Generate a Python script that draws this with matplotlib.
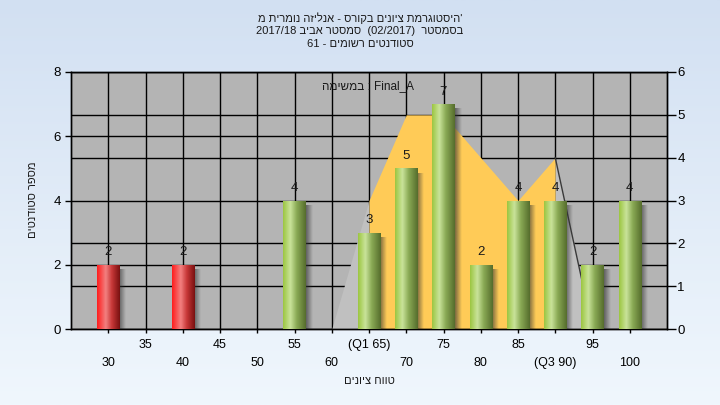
import re
import numpy as np
import matplotlib
matplotlib.use('Agg')
import matplotlib.pyplot as plt
from matplotlib.patches import Rectangle
from matplotlib.colors import LinearSegmentedColormap, to_rgb

plt.rcParams['font.family'] = ['Liberation Sans', 'DejaVu Sans']

# histogram data (left axis)
grades = [30, 40, 55, 65, 70, 75, 80, 85, 90, 95, 100]
counts = [2, 2, 4, 3, 5, 7, 2, 4, 4, 2, 4]
pass_grade = 55

# distribution polygon (right axis)
curve_x = [60, 65, 70, 75, 80, 85, 90, 95]
curve_y = [0, 3, 5, 5, 4, 3, 4, 0]
q1, q3 = 65, 90

tick_pos = list(range(30, 105, 5))
tick_labels = ['30', '35', '40', '45', '50', '55', '60', '(Q1 65)', '70',
               '75', '80', '85', '(Q3 90)', '95', '100']

title_lines = ["היסטוגרמת ציונים בקורס - אנליזה נומרית מ'",
               "בסמסטר  (02/2017)  סמסטר אביב 2017/18",
               "סטודנטים רשומים - 61"]
legend_text = "במשימה : Final_A"
xlabel = "טווח ציונים"
ylabel = "מספר סטודנטים"


def rtl(s):
    # lay a run out right to left, latin/digit pieces kept as they are
    runs = re.findall(r"[A-Za-z0-9_/.]+|[^A-Za-z0-9_/.]+", s)
    out = []
    for r in reversed(runs):
        if re.match(r'[A-Za-z0-9_]', r):
            out.append(r)
        else:
            out.append(r[::-1].translate(str.maketrans('()', ')(')))
    return ''.join(out)


def vis(s):
    # matplotlib has no bidi, so do a crude one for a left-to-right paragraph
    return re.sub(r"[\u0590-\u05FF][^A-Za-z]*[\u0590-\u05FF0-9]|[\u0590-\u05FF]",
                  lambda m: rtl(m.group(0)), s)


fig = plt.figure(figsize=(7.2, 4.05), dpi=100)

# light blue background gradient
bg = fig.add_axes([0, 0, 1, 1], zorder=-5)
c_top, c_bot = np.array(to_rgb('#d2e0f2')), np.array(to_rgb('#f0f7fd'))
t = np.linspace(0, 1, 256)[:, None, None]
bg.imshow(c_top * (1 - t) + c_bot * t, aspect='auto', extent=(0, 1, 0, 1))
bg.axis('off')

# bottom axes: right y scale, x ticks, grid and the area
axr = fig.add_axes([71/720, 76/405, 596/720, 257/405])
ax = axr.twinx()
ax.yaxis.tick_left()
axr.yaxis.tick_right()
ax.set_zorder(axr.get_zorder() + 1)
ax.patch.set_visible(False)
axr.set_facecolor('#b4b4b4')

axr.set_xlim(25, 105)
axr.set_ylim(0, 6)
axr.set_yticks(range(0, 7))
axr.set_yticks([1.5, 4.5], minor=True)
axr.set_xticks(tick_pos[0::2], tick_labels[0::2])
axr.set_xticks(tick_pos[1::2], tick_labels[1::2], minor=True)
axr.grid(True, which='both', color='black', lw=1, zorder=0)
axr.tick_params(axis='y', which='minor', length=0)
axr.tick_params(axis='y', which='major', direction='out', length=6.5, width=1,
                pad=1, labelsize=9.5, colors='black')
axr.tick_params(axis='x', which='major', direction='out', length=3, width=1,
                pad=17, labelsize=9, colors='black')
axr.tick_params(axis='x', which='minor', direction='out', length=3, width=1,
                pad=4.5, labelsize=9, colors='black')
axr.set_axisbelow(True)

# area under the distribution: yellow between quartiles, light grey outside
i1, i3 = curve_x.index(q1), curve_x.index(q3)
axr.fill_between(curve_x[:i1 + 1], curve_y[:i1 + 1], color='#c0c0c0', lw=0, zorder=1)
axr.fill_between(curve_x[i1:i3 + 1], curve_y[i1:i3 + 1], color='#ffcb57', lw=0, zorder=1)
axr.fill_between(curve_x[i3:], curve_y[i3:], color='#c0c0c0', lw=0, zorder=1)
axr.plot(curve_x[i3:], curve_y[i3:], color='#3a3a3a', lw=1, zorder=2)

# bars with cylinder shading and a soft shadow
green = [(0, '#9cc640'), (0.32, '#c9e39a'), (0.6, '#8aaa55'), (1, '#556c2c')]
red = [(0, '#ff1c1c'), (0.38, '#f28080'), (0.65, '#c83838'), (1, '#781010')]
w = 3
for g, c in zip(grades, counts):
    stops = red if g < pass_grade else green
    cmap = LinearSegmentedColormap.from_list('bar', stops)
    sh = np.zeros((1, 32, 4))
    sh[..., :3] = 0.2
    sh[0, :, 3] = np.linspace(0.65, 0, 32)
    ax.imshow(sh, aspect='auto', extent=(g + w/2, g + w/2 + 0.9, 0, c - 0.15),
              zorder=2, interpolation='bilinear')
    rect = Rectangle((g - w/2, 0), w, c, facecolor='none', edgecolor='none', zorder=3)
    ax.add_patch(rect)
    im = ax.imshow(np.linspace(0, 1, 128).reshape(1, -1), cmap=cmap, aspect='auto',
                   extent=(g - w/2, g + w/2, 0, c), zorder=3, interpolation='bilinear')
    im.set_clip_path(rect)
    ax.text(g, c + 0.2, str(c), ha='center', va='bottom', fontsize=9.5, color='#1a1a1a')

ax.set_xlim(25, 105)
ax.set_ylim(0, 8)
ax.set_yticks(range(0, 9, 2))
ax.tick_params(axis='y', direction='out', length=4.5, width=1, pad=3,
               labelsize=9.5, colors='black')

for a in (ax, axr):
    for s in a.spines.values():
        s.set_color('black')
        s.set_linewidth(1)

ax.text(0.498, 0.945, vis(legend_text), transform=ax.transAxes, ha='center',
        va='center', fontsize=8.5, color='#1a1a1a')

for i, line in enumerate(title_lines):
    fig.text(0.5, 1 - (18 + 13 * i)/405, vis(line), ha='center', va='center',
             fontsize=8, color='#1a1a1a')
fig.text(369/720, 1 - 381/405, vis(xlabel), ha='center', va='center', fontsize=8,
         color='#1a1a1a')
fig.text(33/720, 1 - 200/405, vis(ylabel), ha='center', va='center', rotation=90,
         fontsize=8, color='#1a1a1a')

fig.savefig('out.png', dpi=100)
